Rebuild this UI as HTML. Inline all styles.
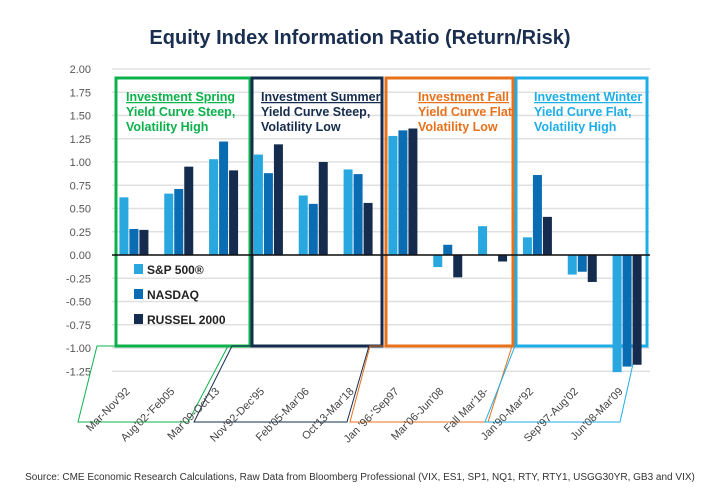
<!DOCTYPE html>
<html><head><meta charset="utf-8"><style>
body{margin:0;background:#fff;}
svg{display:block;font-family:"Liberation Sans",sans-serif;}
</style></head><body>
<svg id="chart" width="720" height="500" viewBox="0 0 720 500">
<text x="360" y="44" text-anchor="middle" font-size="20" font-weight="bold" fill="#1a2e4f">Equity Index Information Ratio (Return/Risk)</text>
<g id="grid"></g>
<g id="boxes"></g>
<g id="bars"></g>
<g id="xlabels"></g>
<text x="360" y="480" text-anchor="middle" font-size="10" fill="#333">Source: CME Economic Research Calculations, Raw Data from Bloomberg Professional (VIX, ES1, SP1, NQ1, RTY, RTY1, USGG30YR, GB3 and VIX)</text>
</svg>
<script>
const categories=["Mar-Nov'92","Aug'02-'Feb05","Mar'09-Oct'13","Nov'92-Dec'95","Feb'05-Mar'06","Oct'13-Mar'18","Jan '96-'Sep97","Mar'06-Jun'08","Fall Mar'18-","Jan'90-Mar'92","Sep'97-Aug'02","Jun'08-Mar'09"];
const sp500=[0.62,0.66,1.03,1.08,0.64,0.92,1.28,-0.13,0.31,0.19,-0.21,-1.26];
const nasdaq=[0.28,0.71,1.22,0.88,0.55,0.87,1.34,0.11,0,0.86,-0.18,-1.2];
const russell=[0.27,0.95,0.91,1.19,1.0,0.56,1.36,-0.24,-0.07,0.41,-0.29,-1.18];
const yTicks=[2,1.75,1.5,1.25,1,0.75,0.5,0.25,0,-0.25,-0.5,-0.75,-1,-1.25];
const seriesNames=["S&P 500®","NASDAQ","RUSSEL 2000"];
const NS="http://www.w3.org/2000/svg";
const X0=112,X1=650,Y0=255,PPU=93;
const y=v=>Y0-v*PPU;
const cw=(X1-X0)/categories.length;
const cx=i=>X0+cw*(i+0.5);
function mk(tag,attrs,parent){const e=document.createElementNS(NS,tag);for(const k in attrs)e.setAttribute(k,attrs[k]);parent.appendChild(e);return e;}
const grid=document.getElementById('grid');
yTicks.forEach(t=>{
 const l=mk('line',{x1:X0,x2:X1,y1:y(t),y2:y(t),stroke:'#e0e0e0','stroke-width':1.5},grid);
 
 
 const tx=mk('text',{x:91,y:y(t)+4,'text-anchor':'end','font-size':11,fill:'#555'},grid);
 tx.textContent=t.toFixed(2);
 
 
});
const boxes=document.getElementById('boxes');
const seasons=[
 {x0:116,x1:250,c:'#0db14b',t:['Investment Spring','Yield Curve Steep,','Volatility High'],tx:126,poly:'97,346 228,346 188,422 78,422'},
 {x0:252,x1:382,c:'#152c4e',t:['Investment Summer','Yield Curve Steep,','Volatility Low'],tx:261,poly:'232,346 369,346 347,422 194,422'},
 {x0:386,x1:513,c:'#e8711c',t:['Investment Fall','Yield Curve Flat,','Volatility Low'],tx:418,poly:'370,346 512,346 488,422 350,422'},
 {x0:516,x1:647,c:'#1daee8',t:['Investment Winter','Yield Curve Flat,','Volatility High'],tx:534,poly:'515,346 637,346 620,422 485,422'}
];
seasons.forEach(s=>{
 const p=mk('polygon',{points:s.poly,fill:'none',stroke:s.c,'stroke-width':1},boxes);
 
 
 const r=mk('rect',{x:s.x0,y:78,width:s.x1-s.x0,height:268,fill:'none',stroke:s.c,'stroke-width':3},boxes);
 
 
 s.t.forEach((line,j)=>{
  const t=mk('text',{x:s.tx,y:101+j*15,'font-size':12.5,'font-weight':'bold',fill:s.c},boxes);
  if(j===0)t.setAttribute('text-decoration','underline');
  t.textContent=line;
  
  
 });
});
const bars=document.getElementById('bars');
const series=[sp500,nasdaq,russell];
const colors=['#29a8e0','#0a6db3','#152c4e'];
const bw=9;
series.forEach((arr,si)=>{
 arr.forEach((v,i)=>{
  const bx=cx(i)-15+si*10;
  const r=mk('rect',{x:bx,y:Math.min(y(v),Y0),width:bw,height:Math.abs(y(v)-Y0),fill:colors[si]},bars);
  
  
 });
});
const zl=mk('line',{x1:X0,x2:X1,y1:Y0,y2:Y0,stroke:'#111','stroke-width':1.5},bars);


seriesNames.forEach((n,i)=>{
 const r=mk('rect',{x:134,y:264+i*25,width:9,height:10,fill:colors[i]},bars);
 
 
 const t=mk('text',{x:147,y:274+i*25,'font-size':12,'font-weight':'bold',fill:'#222'},bars);
 t.textContent=n;
 
 
});
const xl=document.getElementById('xlabels');
categories.forEach((c,i)=>{
 const px=cx(i)-4,py=392;
 const t=mk('text',{x:px,y:py,'text-anchor':'end','font-size':11,fill:'#444',transform:`rotate(-45 ${px} ${py})`},xl);
 t.textContent=c;
 
 
});
</script>
</body></html>
